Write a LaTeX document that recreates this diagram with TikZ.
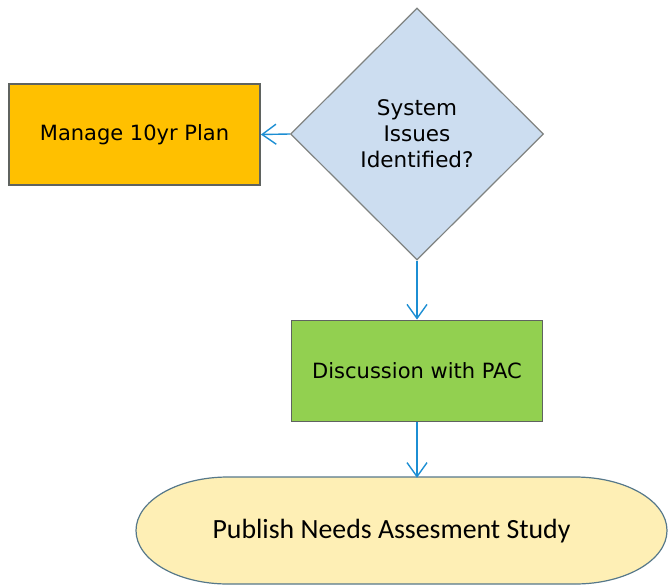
\documentclass[tikz,border=0pt]{standalone}
\usepackage{fontspec}
\setmainfont{DejaVu Sans}
\newfontfamily\pubfont{Carlito}
\usepackage{tikz}
\usetikzlibrary{shapes.geometric,arrows.meta}

\definecolor{planorange}{HTML}{FFC000}
\definecolor{issueblue}{HTML}{CCDDF0}
\definecolor{pacgreen}{HTML}{92D050}
\definecolor{pubyellow}{HTML}{FEEFB5}
\definecolor{linkblue}{HTML}{1C8ED3}
\definecolor{edgegray}{HTML}{5F6360}

\tikzset{
    taskbox/.style={draw=edgegray, line width=1.8pt, minimum width=251pt, minimum height=101pt, inner sep=0pt, font=\fontsize{21}{25}\selectfont},
    decide/.style={diamond, draw=edgegray!80, line width=1.2pt, fill=issueblue, minimum width=253pt, minimum height=252pt, inner sep=0pt, aspect=1, align=center, font=\fontsize{21.5}{26}\selectfont},
    link/.style={linkblue, line width=1.4pt, -{Straight Barb[length=14pt,width=20pt,line width=1.4pt]}}
}

\begin{document}
\begin{tikzpicture}[x=1pt,y=-1pt]
    \useasboundingbox (0,0) rectangle (668,586);
    % 	decision and the two boxes
        \node [decide] (issues) at (417,134) {System\\Issues\\Identified?};
        \node [taskbox, fill=planorange] (plan) at (134.5,134.5) {Manage 10yr Plan};
        \node [taskbox, fill=pacgreen] (pac) at (417,371) {Discussion with PAC};
    % 	terminal
        \filldraw [fill=pubyellow, draw=edgegray!60!linkblue!70!gray, line width=1.2pt]
            (228,477) -- (575,477) arc [start angle=90, end angle=-90, x radius=92, y radius=-53.5]
            -- (228,584) arc [start angle=270, end angle=90, x radius=92, y radius=-53.5] -- cycle;
        \node [minimum height=107pt, inner sep=0pt, font=\pubfont\fontsize{27.8}{32}\selectfont] (pub) at (391.5,531.5) {Publish Needs Assesment Study};
    % 	links
        \draw [link] (issues.west) -- (plan.east);
        \draw [link] (issues.south) -- (pac.north);
        \draw [link] (pac.south) -- (pac.south |- pub.north);
    \end{tikzpicture}
\end{document}
